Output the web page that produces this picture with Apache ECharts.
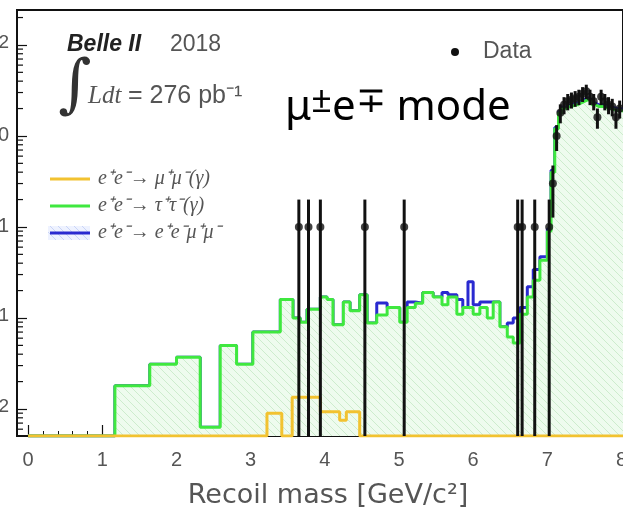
<!DOCTYPE html>
<html>
<head>
<meta charset="utf-8">
<title>Belle II recoil mass, mu e mode</title>
<script src="https://cdn.jsdelivr.net/npm/echarts@6/dist/echarts.min.js"></script>
<style>
  html, body { margin: 0; padding: 0; background: #fff; }
  #chart { width: 623px; height: 510px; }
</style>
</head>
<body>
<div id="chart"></div>
<script>
// bin edges of the MC histograms [GeV/c^2]
const binEdges = [0, 1.17, 1.64, 2.0, 2.32, 2.59, 2.81, 3.03, 3.4, 3.57, 3.67, 3.76, 3.94, 4.03, 4.11,
  4.25, 4.34, 4.47, 4.57, 4.70, 4.84, 5.01, 5.11, 5.22, 5.32, 5.46, 5.58, 5.66, 5.78, 5.86, 5.93,
  6.00, 6.09, 6.19, 6.27, 6.36, 6.46, 6.54, 6.63, 6.73, 6.81, 6.90, 7.00,
  7.05, 7.10, 7.15, 7.20, 7.25, 7.30, 7.35, 7.40, 7.45, 7.50, 7.55, 7.60, 7.65, 7.70, 7.75,
  7.80, 7.85, 7.90, 7.95, 8.00, 8.05]
// e+e- -> tau+tau-(gamma)
const tautau = [0, 0.018, 0.031, 0.037, 0.0063, 0.050, 0.031, 0.070, 0.16, 0.10, 0.09, 0.125, 0.17, 0.16,
  0.084, 0.15, 0.12, 0.18, 0.088, 0.108, 0.13, 0.09, 0.13, 0.145, 0.19, 0.17, 0.14, 0.17, 0.11, 0.13,
  0.13, 0.11, 0.13, 0.10, 0.15, 0.08, 0.062, 0.053, 0.11, 0.17, 0.26, 0.43,
  0.9, 4, 12, 18, 20, 21, 21.5, 22, 23, 24, 25, 24, 22, 21, 21, 20.5, 20, 19.5, 19, 19, 18.5]
// e+e- -> e+e-mu+mu- (stacked on top)
const eemumu = [0, 0, 0, 0, 0, 0, 0, 0, 0, 0, 0, 0, 0, 0,
  0, 0, 0, 0, 0, 0.038, 0, 0, 0.02, 0, 0, 0, 0.05, 0.01, 0.05, 0,
  0.12, 0.03, 0.02, 0.05, 0, 0, 0.026, 0.047, 0.02, 0.05, 0.08, 0.04,
  0.05, 0.2, 0.4, 0.6, 0.8, 0.8, 0.9, 1, 1, 1.1, 1.2, 1.1, 1, 0.9, 1, 1, 0.9, 0.9, 0.9, 0.9, 0.9]
// e+e- -> mu+mu-(gamma)
const mumuEdges = [0, 3.22, 3.42, 3.56, 3.90, 3.94, 4.20, 4.29, 4.47, 8.05]
const mumu = [0, 0.009, 0, 0.0135, 0.0135, 0.0093, 0.0075, 0.0093, 0]
// data: bin centre and events
const dataX = [3.65, 3.78, 3.94, 4.54, 5.07, 6.60, 6.66, 6.83,
  7.025, 7.075, 7.125, 7.175, 7.225, 7.275, 7.325, 7.375, 7.425, 7.475,
  7.525, 7.575, 7.625, 7.675, 7.725, 7.775, 7.825, 7.875, 7.925, 7.975]
const dataN = [1, 1, 1, 1, 1, 1, 1, 1,
  1, 3, 10, 18, 22, 24, 25, 26, 27, 29,
  31, 27, 24, 16, 27, 24, 22, 21, 16, 20]
const xTicks = [0, 1, 2, 3, 4, 5, 6, 7, 8]

const XMIN = -0.15
const XMAX = 8.02
const YMIN = 0.00505
const YMAX = 242

function stepPoints(edges, vals) {
  const pts = vals.map((v, i) => [edges[i], Math.max(v, YMIN)])
  pts.push([edges[edges.length - 1], Math.max(vals[vals.length - 1], YMIN)])
  return pts
}

function hatch(bg, fg) {
  const c = document.createElement('canvas')
  c.width = c.height = 8
  const g = c.getContext('2d')
  g.fillStyle = bg
  g.fillRect(0, 0, 8, 8)
  g.strokeStyle = fg
  g.lineWidth = 1
  g.beginPath()
  g.moveTo(0, 0); g.lineTo(8, 8)
  g.moveTo(-1, 7); g.lineTo(1, 9)
  g.moveTo(7, -1); g.lineTo(9, 1)
  g.stroke()
  return c
}

const minorX = []
for (let i = 1; i < 41; i++) if (i % 5) minorX.push(+(i * 0.2).toFixed(1))
const minorY = []
for (let e = -3; e <= 2; e++) for (let k = 2; k <= 9; k++) {
  const v = k * Math.pow(10, e)
  if (v > YMIN && v < YMAX) minorY.push([XMIN, v])
}

const blueTop = tautau.map((v, i) => v + eemumu[i])
const errData = dataX.map((x, i) => {
  const n = dataN[i], s = Math.sqrt(n)
  return [x, n, n - s, n + s]
})

const chart = echarts.init(document.getElementById('chart'))
const axisFont = 'Liberation Sans'

chart.setOption({
  animation: false,
  grid: {
    left: 17, top: 10, right: 0, bottom: 74, containLabel: false, outerBoundsMode: 'none',
    show: true, borderColor: '#111', borderWidth: 2
  },
  xAxis: [
    {
      type: 'value', min: XMIN, max: XMAX,
      axisLine: { onZero: false, lineStyle: { color: '#111', width: 2 } },
      axisTick: { inside: true, length: 11, customValues: xTicks, lineStyle: { color: '#111', width: 1.2 } },
      axisLabel: { customValues: xTicks, margin: 14, fontSize: 20, color: '#555', fontFamily: axisFont },
      splitLine: { show: false },
      name: 'Recoil mass [GeV/c²]', nameLocation: 'middle', nameGap: 46,
      nameTextStyle: { fontSize: 27, color: '#555', fontFamily: 'DejaVu Sans', padding: [0, 0, 0, 16] }
    },
    {
      type: 'value', min: XMIN, max: XMAX, position: 'bottom',
      axisLine: { show: false, onZero: false },
      axisTick: { inside: true, length: 5, customValues: minorX, lineStyle: { color: '#111', width: 1 } },
      axisLabel: { show: false },
      splitLine: { show: false }
    }
  ],
  yAxis: {
    type: 'log', logBase: 10, min: YMIN, max: YMAX,
    axisLine: { show: true, onZero: false, lineStyle: { color: '#111', width: 2 } },
    axisTick: { inside: true, length: 10, lineStyle: { color: '#111', width: 1.2 } },
    axisLabel: {
      showMinLabel: false, showMaxLabel: false, margin: 8, fontSize: 20, color: '#555', fontFamily: axisFont,
      formatter: v => {
        const e = Math.round(Math.log10(v))
        if (e === 0) return '1'
        if (e === 1) return '10'
        return '10{e|' + (e < 0 ? '−' : '') + Math.abs(e) + '}'
      },
      rich: { e: { fontSize: 19, color: '#555', fontFamily: axisFont, padding: [0, 0, 4, 0] } }
    },
    splitLine: { show: false }
  },
  series: [
    {
      name: 'e+e- -> e+e-mu+mu-', type: 'line', step: 'end', symbol: 'none', z: 2,
      data: stepPoints(binEdges, blueTop),
      lineStyle: { color: '#2a2ad0', width: 3 }
    },
    {
      name: 'e+e- -> tau+tau-', type: 'line', step: 'end', symbol: 'none', z: 3,
      data: stepPoints(binEdges, tautau),
      lineStyle: { color: '#3fe83f', width: 3 },
      areaStyle: { origin: 'start', opacity: 1, color: { image: hatch('#eefbee', '#cdeccd'), repeat: 'repeat' } }
    },
    {
      name: 'e+e- -> mu+mu-', type: 'line', step: 'end', symbol: 'none', z: 4,
      data: stepPoints(mumuEdges, mumu),
      lineStyle: { color: '#f2c230', width: 3 }
    },
    {
      name: 'Data errors', type: 'custom', z: 5,
      data: errData,
      renderItem: (params, api) => {
        const x = api.value(0)
        const top = api.coord([x, api.value(3)])
        const bot = api.coord([x, Math.max(api.value(2), YMIN)])
        return {
          type: 'line',
          shape: { x1: top[0], y1: top[1], x2: bot[0], y2: bot[1] },
          style: { stroke: '#111', lineWidth: 3 }
        }
      }
    },
    {
      name: 'Data', type: 'scatter', z: 6, symbolSize: 8,
      data: dataX.map((x, i) => [x, dataN[i]]),
      itemStyle: { color: '#111' }
    },
    {
      name: 'y minor ticks', type: 'custom', z: 7, silent: true, clip: false,
      data: minorY,
      renderItem: (params, api) => {
        const p = api.coord([api.value(0), api.value(1)])
        return { type: 'line', shape: { x1: p[0], y1: p[1], x2: p[0] + 6, y2: p[1] }, style: { stroke: '#111', lineWidth: 1.2 } }
      }
    }
  ],
  graphic: [
    { type: 'text', left: 67, top: 33, style: { text: 'Belle II', font: 'italic bold 23px Liberation Sans', fill: '#222' } },
    { type: 'text', left: 170, top: 33, style: { text: '2018', font: '23px Liberation Sans', fill: '#555' } },
    { type: 'text', left: 58, top: 56, style: { text: '∫', font: '64px DejaVu Serif', fill: '#333' } },
    { type: 'text', left: 88, top: 84, style: { text: 'Ldt', font: 'italic 25px Liberation Serif', fill: '#555' } },
    { type: 'text', left: 128, top: 84, style: { text: '= 276 pb⁻¹', font: '25px Liberation Sans', fill: '#555' } },
    { type: 'circle', shape: { cx: 455, cy: 52, r: 4 }, style: { fill: '#111' } },
    { type: 'text', left: 483, top: 40, style: { text: 'Data', font: '23px Liberation Sans', fill: '#555' } },
    {
      type: 'text', left: 285, top: 84,
      style: {
        text: '{b|μ}{s|±}{b|e}{s|∓}{b| mode}',
        rich: {
          b: { fontFamily: 'Noto Sans', fontSize: 42, fill: '#000', color: '#000' },
          s: { fontFamily: 'Noto Sans', fontSize: 36, fill: '#000', color: '#000', verticalAlign: 'top', padding: [0, 0, 12, 0] }
        }
      }
    },
    { type: 'line', shape: { x1: 50, y1: 179, x2: 90, y2: 179 }, style: { stroke: '#f2c230', lineWidth: 3 } },
    { type: 'line', shape: { x1: 50, y1: 206, x2: 90, y2: 206 }, style: { stroke: '#3fe83f', lineWidth: 3 } },
    { type: 'rect', shape: { x: 48, y: 226, width: 42, height: 14 }, style: { fill: { image: hatch('#eef2ff', '#c9d4f7'), repeat: 'repeat' } } },
    { type: 'line', shape: { x1: 50, y1: 233, x2: 90, y2: 233 }, style: { stroke: '#2a2ad0', lineWidth: 3 } },
    { type: 'text', left: 98, top: 169, style: { text: 'e⁺e⁻→ μ⁺μ⁻(γ)', font: 'italic 20px Liberation Serif', fill: '#555' } },
    { type: 'text', left: 98, top: 196, style: { text: 'e⁺e⁻→ τ⁺τ⁻(γ)', font: 'italic 20px Liberation Serif', fill: '#555' } },
    { type: 'text', left: 98, top: 223, style: { text: 'e⁺e⁻→ e⁺e⁻μ⁺μ⁻', font: 'italic 20px Liberation Serif', fill: '#555' } }
  ]
})
</script>
</body>
</html>
